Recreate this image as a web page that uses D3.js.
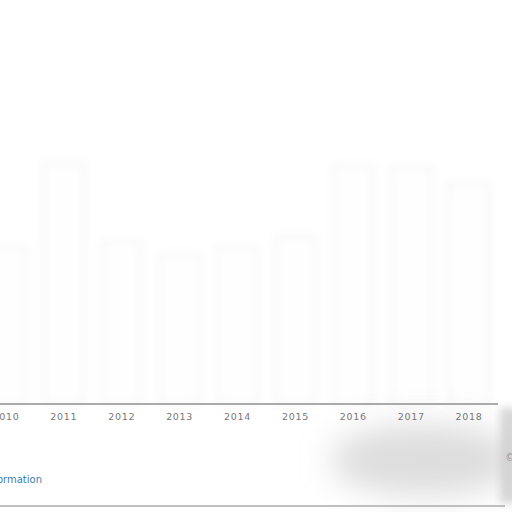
<!DOCTYPE html>
<html><head><meta charset="utf-8">
<script src="https://cdn.jsdelivr.net/npm/d3@7"></script>
<style>html,body{margin:0;padding:0;background:#fff;overflow:hidden}</style>
</head><body>
<svg id="c" width="512" height="512"></svg>
<script>
const years = ["2010","2011","2012","2013","2014","2015","2016","2017","2018"];
const values = [62, 95, 64, 59, 62, 66, 94, 93, 87];

const svg = d3.select("#c");
const defs = svg.append("defs");
const f = defs.append("filter").attr("id","blur").attr("x","-60%").attr("y","-60%").attr("width","220%").attr("height","220%");
f.append("feGaussianBlur").attr("stdDeviation", 16);
const f2 = defs.append("filter").attr("id","blur2").attr("x","-30%").attr("y","-30%").attr("width","160%").attr("height","160%");
f2.append("feGaussianBlur").attr("stdDeviation", 4);

const x = d3.scaleBand().domain(years).range([-23, 498]).paddingInner(0.3).paddingOuter(0.15);
const y = d3.scaleLinear().domain([0, 100]).range([404, 150]);

// faint ghost bars
svg.append("g").attr("filter","url(#blur2)").selectAll("rect").data(years).join("rect")
  .attr("x", d => x(d)).attr("width", x.bandwidth())
  .attr("y", (d,i) => y(values[i])).attr("height", (d,i) => y(0) - y(values[i]))
  .attr("fill", "#fefefe").attr("stroke", "#f4f4f4").attr("stroke-width", 3);

// grey smudge in footer
svg.append("ellipse").attr("cx", 425).attr("cy", 460).attr("rx", 95).attr("ry", 36)
  .attr("fill", "#d2d2d2").attr("opacity", 0.75).attr("filter", "url(#blur)");
svg.append("rect").attr("x", 500).attr("y", 408).attr("width", 20).attr("height", 95)
  .attr("fill", "#cdcdcd").attr("opacity", 0.8).attr("filter", "url(#blur2)");

// axis
const ax = svg.append("g").attr("transform", "translate(0,404)")
  .call(d3.axisBottom(x).tickSize(0).tickPadding(9));
ax.select(".domain").attr("d", "M0,0H498").attr("stroke", "#8f8f8f").attr("stroke-width", 1.5);
ax.selectAll("text").attr("font-family", "DejaVu Sans, sans-serif").attr("font-size", 9.5)
  .attr("fill", "#777").attr("letter-spacing", 0.7);

// footer bottom line
svg.append("line").attr("x1", 0).attr("x2", 505).attr("y1", 506).attr("y2", 506)
  .attr("stroke", "#ababab").attr("stroke-width", 1.5);

svg.append("text").attr("x", 42).attr("y", 483).attr("text-anchor", "end")
  .attr("font-family", "DejaVu Sans, sans-serif").attr("font-size", 10)
  .attr("fill", "#3b7db3").text("Additional Information");
svg.append("text").attr("x", 505).attr("y", 461)
  .attr("font-family", "DejaVu Sans, sans-serif").attr("font-size", 10)
  .attr("fill", "#999").text("© Statista 2019");
</script>
</body></html>
